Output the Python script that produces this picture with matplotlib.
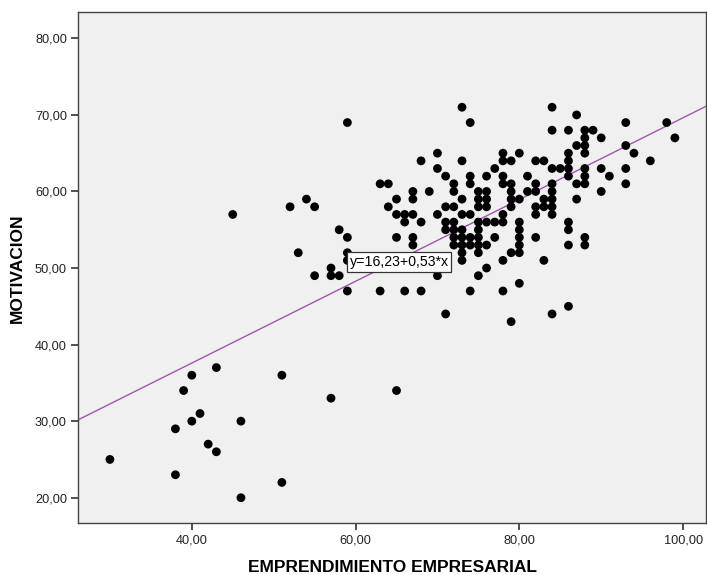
import matplotlib
matplotlib.use("Agg")
import matplotlib.pyplot as plt
from matplotlib.ticker import FuncFormatter

plt.rcParams['font.family'] = ['Liberation Sans', 'DejaVu Sans']

# EMPRENDIMIENTO EMPRESARIAL (x) and MOTIVACION (y)
points = [
    (30, 25), (38, 29), (38, 23), (39, 34), (40, 30), (40, 36), (41, 31), (42, 27),
    (43, 26), (43, 37), (46, 30), (46, 20), (51, 22), (51, 36), (45, 57), (57, 33),
    (65, 34),
    (52, 58), (54, 59), (55, 58), (53, 52), (55, 49), (57, 50), (57, 49), (58, 49),
    (58, 55), (59, 54), (59, 47), (59, 69), (59, 52), (59, 51),
    (63, 61), (64, 61), (64, 58), (65, 59), (65, 57), (66, 57), (67, 57), (67, 60),
    (67, 59), (66, 56), (68, 56), (65, 54), (67, 54), (67, 53), (68, 64), (69, 60),
    (70, 65), (70, 63), (70, 57), (70, 49), (63, 47), (66, 47), (68, 47), (71, 62),
    (71, 58), (72, 58), (72, 61), (72, 60), (73, 59), (73, 71), (74, 69), (73, 64),
    (71, 56), (72, 56), (71, 55), (72, 55), (73, 55), (72, 54), (72, 53), (73, 54),
    (73, 53), (73, 52), (73, 51), (74, 53), (74, 54), (75, 53), (75, 52), (75, 54),
    (75, 55), (75, 56), (76, 53), (77, 54), (76, 56), (77, 56), (78, 56), (73, 57),
    (74, 57), (71, 44), (74, 47), (75, 49), (76, 50), (78, 51), (79, 52), (80, 56),
    (80, 55), (80, 54), (80, 53), (80, 52), (80, 48), (78, 47), (79, 43), (84, 44),
    (86, 45), (83, 51), (82, 54), (86, 56), (86, 55), (86, 53), (88, 54), (88, 53),
    (82, 57), (84, 57),
    (74, 62), (74, 61), (75, 60), (76, 60), (75, 59), (76, 59), (75, 58), (76, 58),
    (76, 62), (77, 63), (78, 65), (78, 64), (79, 64), (80, 65), (78, 62), (78, 61),
    (79, 61), (79, 60), (79, 59), (81, 62), (81, 60), (82, 60), (82, 61), (82, 64),
    (83, 64), (84, 63), (85, 63), (86, 65), (86, 64), (86, 63), (86, 62), (87, 66),
    (87, 61), (87, 59), (84, 68), (86, 68), (84, 71), (87, 70), (84, 61), (84, 60),
    (84, 59), (84, 58), (83, 59), (83, 58), (82, 58), (80, 59), (78, 57), (88, 68),
    (89, 68), (88, 67), (88, 66), (88, 65), (90, 67), (88, 63), (88, 62), (88, 61),
    (90, 63), (91, 62), (90, 60), (93, 69), (93, 66), (94, 65), (93, 63), (93, 61),
    (96, 64), (98, 69), (99, 67), (79, 58),
]
x_vals = [p[0] for p in points]
y_vals = [p[1] for p in points]

intercept = 16.23
slope = 0.534          # unrounded slope behind the "0,53" shown in the label
fit_label = "y=16,23+0,53*x"
x_ticks = [40, 60, 80, 100]
y_ticks = [20, 30, 40, 50, 60, 70, 80]
x_title = "EMPRENDIMIENTO EMPRESARIAL"
y_title = "MOTIVACION"

fig = plt.figure(figsize=(7.07, 5.75), dpi=100)
ax = fig.add_axes([78 / 707, (575 - 523.3) / 575, (706 - 78) / 707, (523.3 - 12.3) / 575])
ax.set_facecolor('#F0F0F0')

xmin, xmax = 26.1, 102.8
ymin, ymax = 16.66, 83.4
ax.set_xlim(xmin, xmax)
ax.set_ylim(ymin, ymax)

ax.plot([xmin, xmax], [intercept + slope * xmin, intercept + slope * xmax],
        color='#A055AC', lw=1.0, zorder=2)
ax.scatter(x_vals, y_vals, s=40, color='black', edgecolors='none', zorder=3)

ax.text(59.25, 50.75, fit_label, fontsize=10.2, va='center', ha='left', zorder=4,
        bbox=dict(boxstyle='square,pad=0.2', fc='white', ec='#333333', lw=0.9))

ax.set_xticks(x_ticks)
ax.set_yticks(y_ticks)
fmt = FuncFormatter(lambda v, p: f"{v:.2f}".replace('.', ','))
ax.xaxis.set_major_formatter(fmt)
ax.yaxis.set_major_formatter(fmt)
ax.tick_params(axis='both', direction='out', length=5, width=1.2, color='#333333',
               labelsize=9.2, labelcolor='#222222', pad=3)

for s in ax.spines.values():
    s.set_color('#444444')
    s.set_linewidth(1.0)

ax.set_xlabel(x_title, fontsize=12.5, fontweight='bold', labelpad=10)
ax.set_ylabel(y_title, fontsize=12.5, fontweight='bold', labelpad=7)

fig.savefig('out.png', dpi=100)
